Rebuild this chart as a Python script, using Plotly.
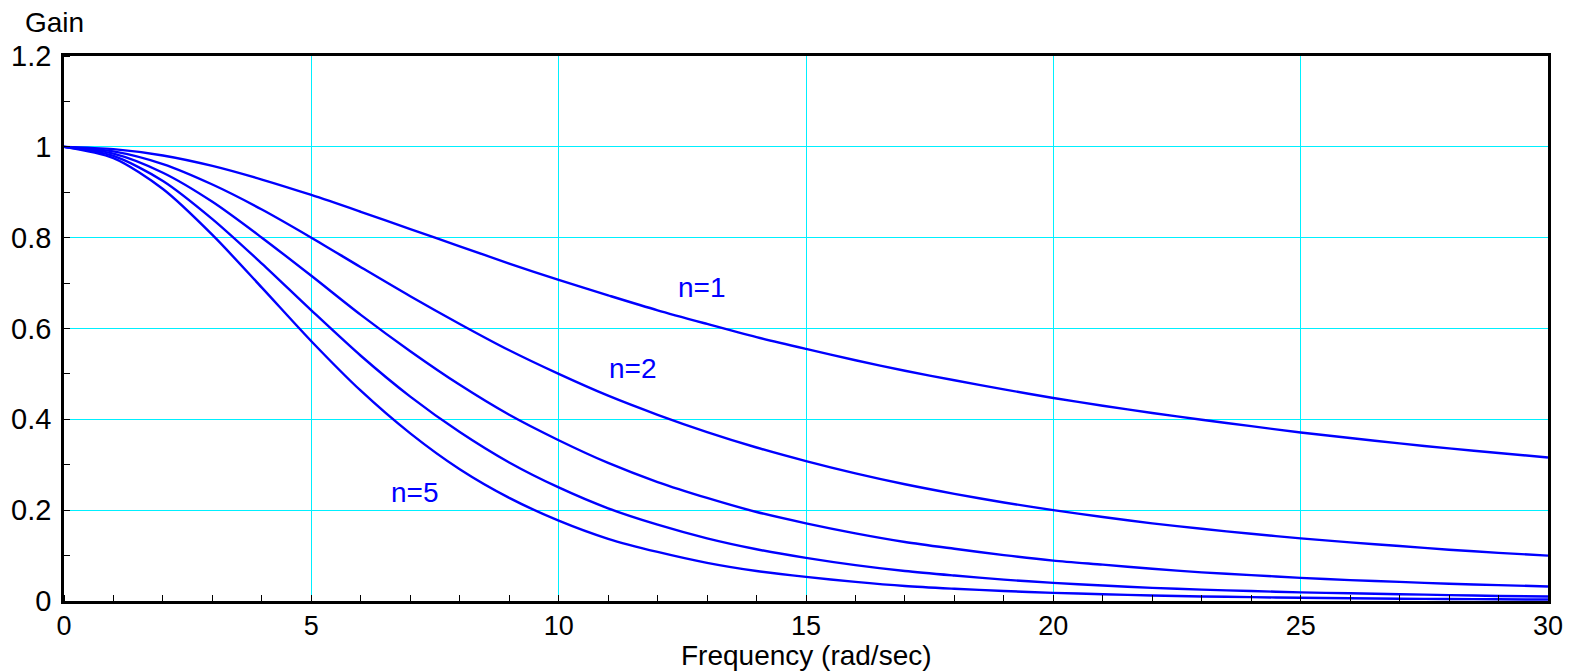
import plotly.graph_objects as go

freq = list(range(0, 31))

gain_n1 = [1.000, 0.995, 0.981, 0.958, 0.928, 0.894, 0.857, 0.819, 0.781, 0.743,
           0.707, 0.673, 0.640, 0.610, 0.581, 0.555, 0.530, 0.507, 0.486, 0.466,
           0.447, 0.430, 0.414, 0.399, 0.385, 0.371, 0.359, 0.347, 0.336, 0.326, 0.316]
gain_n2 = [1.000, 0.990, 0.962, 0.917, 0.862, 0.800, 0.735, 0.671, 0.610, 0.552,
           0.500, 0.452, 0.410, 0.372, 0.338, 0.308, 0.281, 0.257, 0.236, 0.217,
           0.200, 0.185, 0.171, 0.159, 0.148, 0.138, 0.129, 0.121, 0.113, 0.106, 0.100]
gain_n3 = [1.000, 0.985, 0.943, 0.879, 0.800, 0.716, 0.630, 0.550, 0.476, 0.410,
           0.354, 0.304, 0.262, 0.227, 0.196, 0.171, 0.149, 0.130, 0.115, 0.101,
           0.089, 0.080, 0.071, 0.063, 0.057, 0.051, 0.046, 0.042, 0.038, 0.035, 0.032]
gain_n4 = [1.000, 0.980, 0.925, 0.841, 0.743, 0.640, 0.540, 0.450, 0.372, 0.305,
           0.250, 0.204, 0.168, 0.138, 0.114, 0.095, 0.079, 0.066, 0.056, 0.047,
           0.040, 0.034, 0.029, 0.025, 0.022, 0.019, 0.017, 0.015, 0.013, 0.011, 0.010]
gain_n5 = [1.000, 0.975, 0.907, 0.806, 0.690, 0.572, 0.463, 0.369, 0.290, 0.227,
           0.177, 0.137, 0.108, 0.084, 0.066, 0.053, 0.042, 0.033, 0.027, 0.022,
           0.018, 0.015, 0.012, 0.010, 0.0085, 0.007, 0.006, 0.005, 0.0044, 0.0037, 0.0032]

series = [gain_n1, gain_n2, gain_n3, gain_n4, gain_n5]

labels = ["n=1", "n=2", "n=5"]
label_x = [12.9, 11.5, 7.1]
label_y = [0.69, 0.513, 0.238]

x_ticks = [0, 5, 10, 15, 20, 25, 30]
y_ticks = [0, 0.2, 0.4, 0.6, 0.8, 1, 1.2]

FONT = "Liberation Sans, Arial, Helvetica, sans-serif"

fig = go.Figure()
for s in series:
    fig.add_trace(go.Scatter(x=freq, y=s, mode="lines",
                             line=dict(color="#0000ff", width=2.4, shape="spline", smoothing=0.8),
                             showlegend=False, hoverinfo="skip"))

for t, xx, yy in zip(labels, label_x, label_y):
    fig.add_annotation(x=xx, y=yy, text=t, showarrow=False,
                       font=dict(family=FONT, size=28, color="#0000ff"))

fig.add_annotation(xref="paper", yref="paper", x=-0.0275, y=1.062, text="Gain",
                   showarrow=False, xanchor="left", yanchor="middle",
                   font=dict(family=FONT, size=28, color="black"))

fig.add_annotation(xref="paper", yref="paper", x=0.5, y=-0.0991, text="Frequency (rad/sec)",
                   showarrow=False, xanchor="center", yanchor="middle",
                   font=dict(family=FONT, size=28, color="black"))

fig.update_layout(
    width=1569, height=663,
    margin=dict(l=56, r=29, t=48, b=70, autoexpand=False),
    plot_bgcolor="white", paper_bgcolor="white",
    font=dict(family=FONT, size=28, color="black"),
    xaxis=dict(range=[0, 30], tickvals=x_ticks, ticktext=[str(v) for v in x_ticks],
               showgrid=True, gridcolor="#00f0ff", gridwidth=1,
               showline=True, linecolor="black", linewidth=2.5, mirror=True,
               ticks="", zeroline=False, automargin=False, ticklabelstandoff=-1,
               tickfont=dict(size=27),
               minor=dict(dtick=1, tick0=0, ticks="inside", ticklen=6, tickcolor="black",
                          tickwidth=1, showgrid=False)),
    yaxis=dict(range=[0, 1.2], tickvals=y_ticks,
               ticktext=["0", "0.2", "0.4", "0.6", "0.8", "1", "1.2"],
               showgrid=True, gridcolor="#00f0ff", gridwidth=1,
               showline=True, linecolor="black", linewidth=2.5, mirror=True,
               ticks="", zeroline=False, automargin=False, ticklabelstandoff=4,
               tickfont=dict(size=29),
               minor=dict(dtick=0.1, tick0=0, ticks="inside", ticklen=6, tickcolor="black",
                          tickwidth=1, showgrid=False)),
)

fig.write_html("out.html")
